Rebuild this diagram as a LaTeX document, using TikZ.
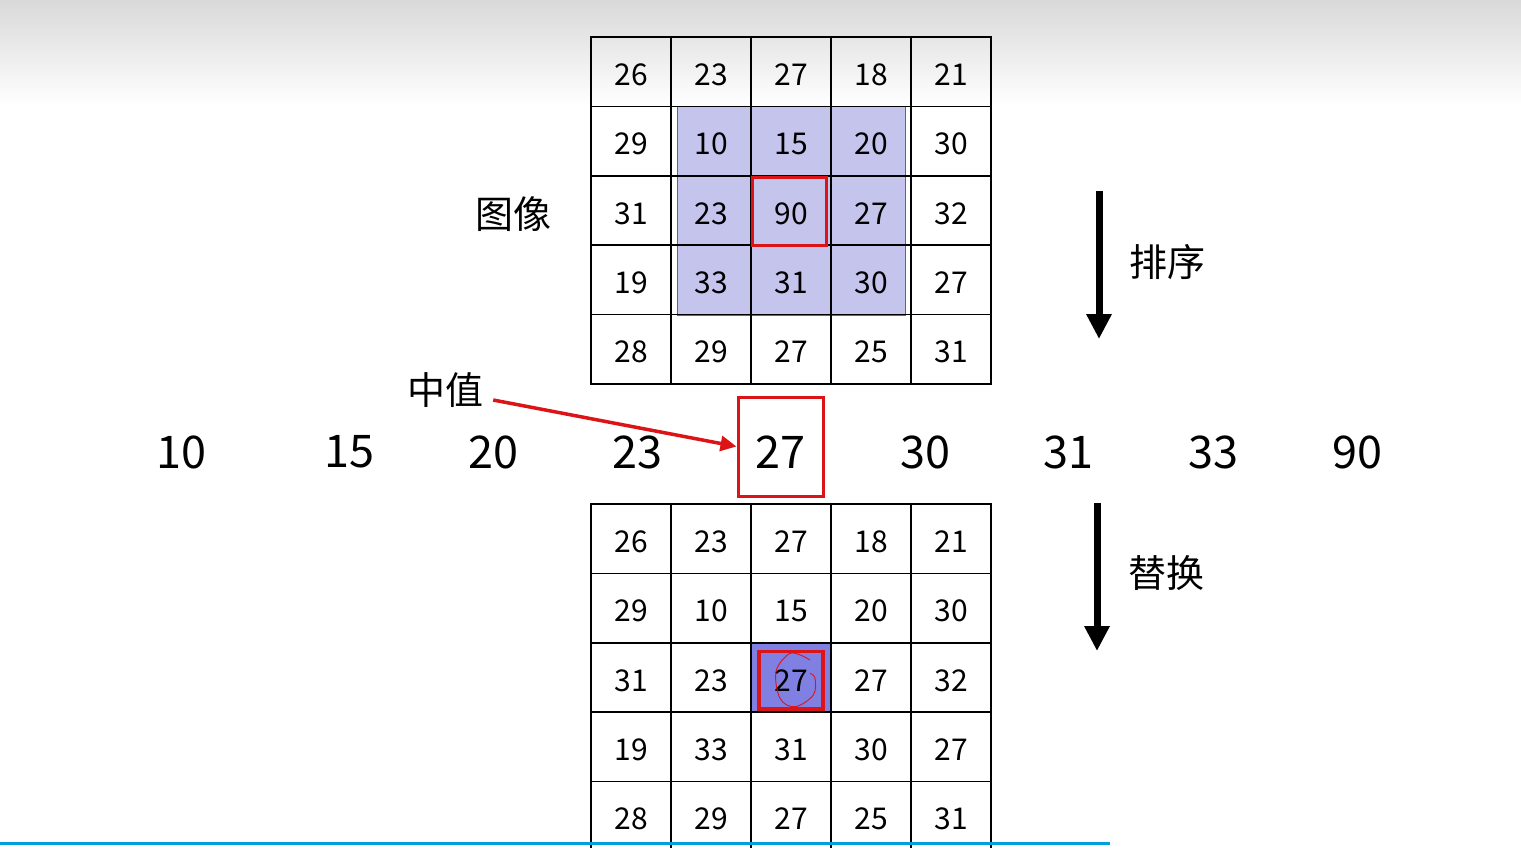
\documentclass[tikz,border=0pt]{standalone}
\usepackage{fontspec}
\setmainfont{Noto Sans CJK SC}
\usetikzlibrary{arrows.meta}
\definecolor{lav}{RGB}{196,196,236}
\definecolor{vio}{RGB}{128,128,226}
\definecolor{myred}{RGB}{220,20,24}
\definecolor{myblue}{RGB}{0,160,222}
\tikzset{
  cell/.style={draw=black, line width=1.6pt, minimum width=80pt, minimum height=69.4pt, inner sep=0pt, text height=27pt, text depth=0pt, font=\fontsize{30}{30}\selectfont},
  bignum/.style={inner sep=0pt, font=\fontsize{45}{45}\selectfont},
  cjk/.style={inner sep=0pt, font=\fontsize{38}{38}\selectfont},
  bigarrow/.style={line width=7pt, -{Triangle[width=24pt,length=25pt]}},
  redarrow/.style={myred, line width=3.5pt, -{Triangle[width=15pt,length=16pt]}},
  redbox/.style={draw=myred, line width=3pt},
}
\begin{document}
\begin{tikzpicture}[x=1pt,y=-1pt]
\useasboundingbox (0,0) rectangle (1521,847);
\clip (0,0) rectangle (1521,847);
\fill[top color=black!15, bottom color=white] (0,0) rectangle (1521,106);
% top grid shading
\fill[lav, draw=black!60, line width=0.8pt] (677,106) rectangle (905,315);
\foreach \row [count=\r] in {{26,23,27,18,21},{29,10,15,20,30},{31,23,90,27,32},{19,33,31,30,27},{28,29,27,25,31}}{
  \foreach \v [count=\c] in \row {
    \node[cell] (t-\r-\c) at ({631+80*(\c-1)},{71.7+69.4*(\r-1)}) {\v};
  }
}
\draw[black, line width=2.4pt] (751,106) -- (751,315) (831,106) -- (831,315);
\draw[redbox] (752,177) rectangle (826,245);
% bottom grid
\fill[vio] (751,643) rectangle (831,712.5);
\foreach \row [count=\r] in {{26,23,27,18,21},{29,10,15,20,30},{31,23,27,27,32},{19,33,31,30,27},{28,29,27,25,31}}{
  \foreach \v [count=\c] in \row {
    \node[cell] (b-\r-\c) at ({631+80*(\c-1)},{538.7+69.4*(\r-1)}) {\v};
  }
}
\draw[myred, line width=3.5pt] (759,651.5) rectangle (823,709);
\draw[myred, line width=0.9pt] plot[smooth, tension=0.6] coordinates {(810,660) (799,654.5) (788.3,654.3) (776,671.7) (780,698.3) (795,706.7) (813.3,695) (815,678.3) (810,673.3)};
% middle row
\node[bignum] (m1) at (181,452) {10};
\node[bignum] (m2) at (349,452) {15};
\node[bignum] (m3) at (493,452) {20};
\node[bignum] (m4) at (637,452) {23};
\node[bignum, draw=myred, line width=3pt, minimum width=85pt, minimum height=99pt, text height=44pt, text depth=0pt] (m5) at (780.5,446.5) {27};
\node[bignum] (m6) at (925,452) {30};
\node[bignum] (m7) at (1068,452) {31};
\node[bignum] (m8) at (1213,452) {33};
\node[bignum] (m9) at (1357,452) {90};
% labels
\node[cjk] (img) at (513,214) {图像};
\node[cjk] (zhong) at (445,390) {中值};
\node[cjk] (sort) at (1167,262) {排序};
\node[cjk] (repl) at (1166,573) {替换};
\draw[redarrow] ([xshift=10pt,yshift=-10pt]zhong.east) -- (m5.west);
\coordinate (a1s) at (1099,191);
\coordinate (a1e) at (1099,339);
\coordinate (a2s) at (1097,503);
\coordinate (a2e) at (1097,651);
\draw[bigarrow] (a1s) -- (a1e);
\draw[bigarrow] (a2s) -- (a2e);
\draw[myblue, line width=3pt] (0,843) -- (1110,843);
\end{tikzpicture}
\end{document}
